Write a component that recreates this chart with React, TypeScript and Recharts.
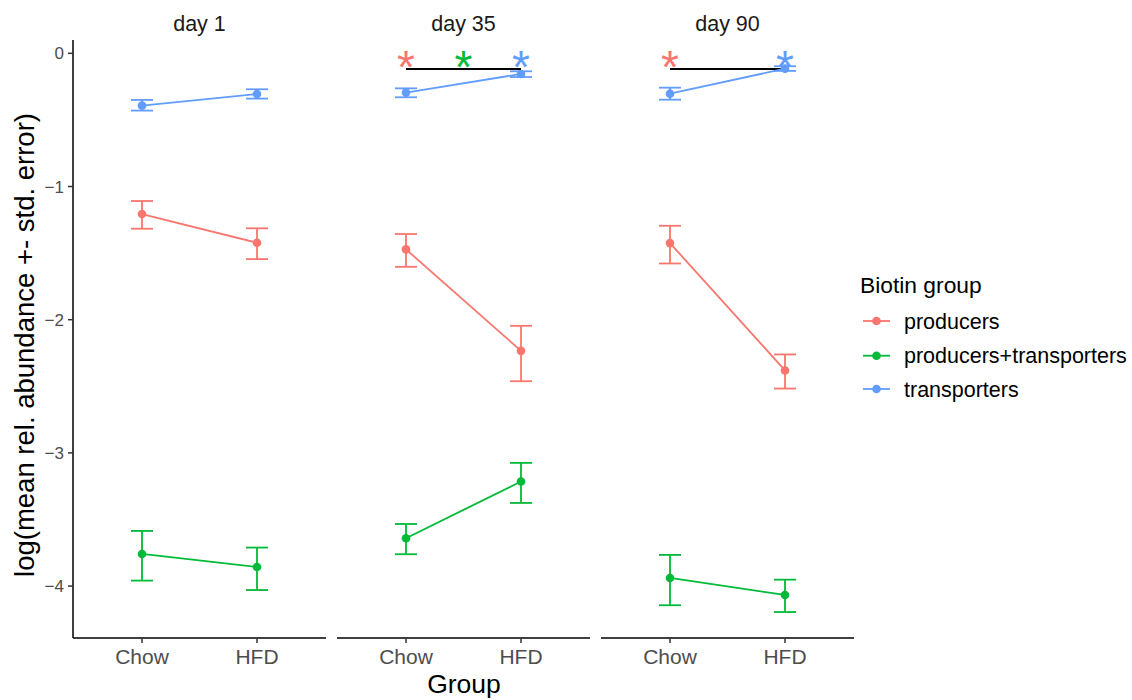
import React from 'react';
import { ComposedChart, Line, XAxis, YAxis, ErrorBar, ReferenceDot } from 'recharts';

const groups = ['Chow', 'HFD'];
const days = ['day 1', 'day 35', 'day 90'];
const seriesNames = ['producers', 'producers+transporters', 'transporters'];
const seriesColors = ['#F8766D', '#00BA38', '#619CFF'];

// [day][group] values
const producersMean = [[-1.207, -1.422], [-1.472, -2.234], [-1.425, -2.381]];
const producersLow = [[-1.317, -1.545], [-1.603, -2.462], [-1.578, -2.517]];
const producersHigh = [[-1.109, -1.314], [-1.357, -2.046], [-1.295, -2.261]];

const bothMean = [[-3.759, -3.857], [-3.641, -3.215], [-3.939, -4.067]];
const bothLow = [[-3.959, -4.03], [-3.761, -3.376], [-4.144, -4.195]];
const bothHigh = [[-3.586, -3.711], [-3.534, -3.075], [-3.766, -3.952]];

const transMean = [[-0.393, -0.305], [-0.295, -0.155], [-0.303, -0.115]];
const transLow = [[-0.43, -0.34], [-0.33, -0.178], [-0.348, -0.132]];
const transHigh = [[-0.35, -0.27], [-0.263, -0.135], [-0.258, -0.097]];

const sigLevel: (number | null)[] = [null, -0.117, -0.117];
const starPositions = [[], [1, 1.5, 2], [1, 2]];
const starSeries = [[], [0, 1, 2], [0, 2]];
const starLevel = -0.028;

const yTicks = [0, -1, -2, -3, -4];
const yDomain = [-4.39, 0.1];
const xDomain = [0.4, 2.6];

const meanSets = [producersMean, bothMean, transMean];
const lowSets = [producersLow, bothLow, transLow];
const highSets = [producersHigh, bothHigh, transHigh];

const FONT = '"Liberation Sans", Arial, Helvetica, sans-serif';
const STAR_FS = 46;

const panelLeft = [0, 337, 601];
const panelWidth = [326, 253, 253];

function buildRows(d: number) {
  return groups.map((g, i) => {
    const row: any = { x: i + 1, group: g };
    for (let s = 0; s < 3; s++) {
      const m = meanSets[s][d][i];
      row['s' + s] = m;
      row['e' + s] = [m - lowSets[s][d][i], highSets[s][d][i] - m];
    }
    if (sigLevel[d] !== null) row.sig = sigLevel[d];
    return row;
  });
}

const fmtY = (v: number) => (v < 0 ? '\u2212' + Math.abs(v) : String(v));

function Panel({ d }: { d: number }) {
  const rows = buildRows(d);
  const showY = d === 0;
  return (
    <div style={{ position: 'absolute', left: panelLeft[d], top: 0 }}>
      <ComposedChart
        width={panelWidth[d]}
        height={700}
        data={rows}
        margin={{ top: 40, right: 0, bottom: 0, left: 0 }}
        style={{ fontFamily: FONT }}
      >
        <XAxis
          type="number"
          dataKey="x"
          domain={xDomain}
          ticks={[1, 2]}
          interval={0}
          allowDataOverflow
          tickFormatter={(v: number) => groups[v - 1]}
          height={62}
          tickSize={5}
          tickMargin={6}
          axisLine={{ stroke: '#000', strokeWidth: 1.5 }}
          tickLine={{ stroke: '#333', strokeWidth: 1.5 }}
          tick={{ fontSize: 21, fill: '#4D4D4D', fontFamily: FONT }}
        />
        <YAxis
          type="number"
          domain={yDomain}
          ticks={yTicks}
          interval={0}
          allowDataOverflow
          hide={!showY}
          width={73}
          tickSize={5}
          tickMargin={4}
          tickFormatter={fmtY}
          axisLine={{ stroke: '#000', strokeWidth: 1.5 }}
          tickLine={{ stroke: '#333', strokeWidth: 1.5 }}
          tick={{ fontSize: 17, fill: '#4D4D4D', fontFamily: FONT }}
        />
        {sigLevel[d] !== null && (
          <Line dataKey="sig" stroke="#000" strokeWidth={2} dot={false} activeDot={false} isAnimationActive={false} />
        )}
        {[0, 1, 2].map((s) => (
          <Line
            key={s}
            dataKey={'s' + s}
            name={seriesNames[s]}
            stroke={seriesColors[s]}
            strokeWidth={1.8}
            dot={{ r: 4.3, fill: seriesColors[s], stroke: seriesColors[s], strokeWidth: 0 }}
            activeDot={false}
            isAnimationActive={false}
          >
            <ErrorBar dataKey={'e' + s} direction="y" width={11} stroke={seriesColors[s]} strokeWidth={1.8} isAnimationActive={false} />
          </Line>
        ))}
        {starPositions[d].map((p, k) => {
          const c = seriesColors[starSeries[d][k]];
          return (
            <ReferenceDot
              key={'star' + k}
              x={p}
              y={starLevel}
              ifOverflow="visible"
              shape={(props: any) => (
                <text
                  x={props.cx}
                  y={props.cy + 0.57 * STAR_FS}
                  textAnchor="middle"
                  fontSize={STAR_FS}
                  fill={c}
                  fontFamily={FONT}
                >
                  *
                </text>
              )}
            />
          );
        })}
      </ComposedChart>
    </div>
  );
}

const stripCenters = [199.5, 463.5, 727.5];
const legendY = [321, 355.7, 389];

export default function App() {
  return (
    <div style={{ position: 'absolute', left: 0, top: 0, width: 1132, height: 700, background: '#fff', fontFamily: FONT }}>
      {[0, 1, 2].map((d) => (
        <Panel key={d} d={d} />
      ))}
      <svg width={1132} height={700} style={{ position: 'absolute', left: 0, top: 0, pointerEvents: 'none' }}>
        {days.map((t, i) => (
          <text key={t} x={stripCenters[i]} y={31} textAnchor="middle" fontSize={21.5} fill="#1A1A1A" fontFamily={FONT}>
            {t}
          </text>
        ))}
        <text x={464} y={693} textAnchor="middle" fontSize={26.5} fill="#000" fontFamily={FONT}>
          Group
        </text>
        <text
          x={34}
          y={345}
          textAnchor="middle"
          fontSize={27.5}
          fill="#000"
          fontFamily={FONT}
          transform="rotate(-90 34 345)"
        >
          log(mean rel. abundance +- std. error)
        </text>
        <text x={860} y={292.5} fontSize={22.8} fill="#000" fontFamily={FONT}>
          Biotin group
        </text>
        {seriesNames.map((n, i) => (
          <g key={n}>
            <line x1={863} x2={890} y1={legendY[i]} y2={legendY[i]} stroke={seriesColors[i]} strokeWidth={1.8} />
            <circle cx={876.5} cy={legendY[i]} r={4.3} fill={seriesColors[i]} />
            <text x={904} y={legendY[i]} dy="0.35em" fontSize={21.5} fill="#000" fontFamily={FONT}>
              {n}
            </text>
          </g>
        ))}
      </svg>
    </div>
  );
}
